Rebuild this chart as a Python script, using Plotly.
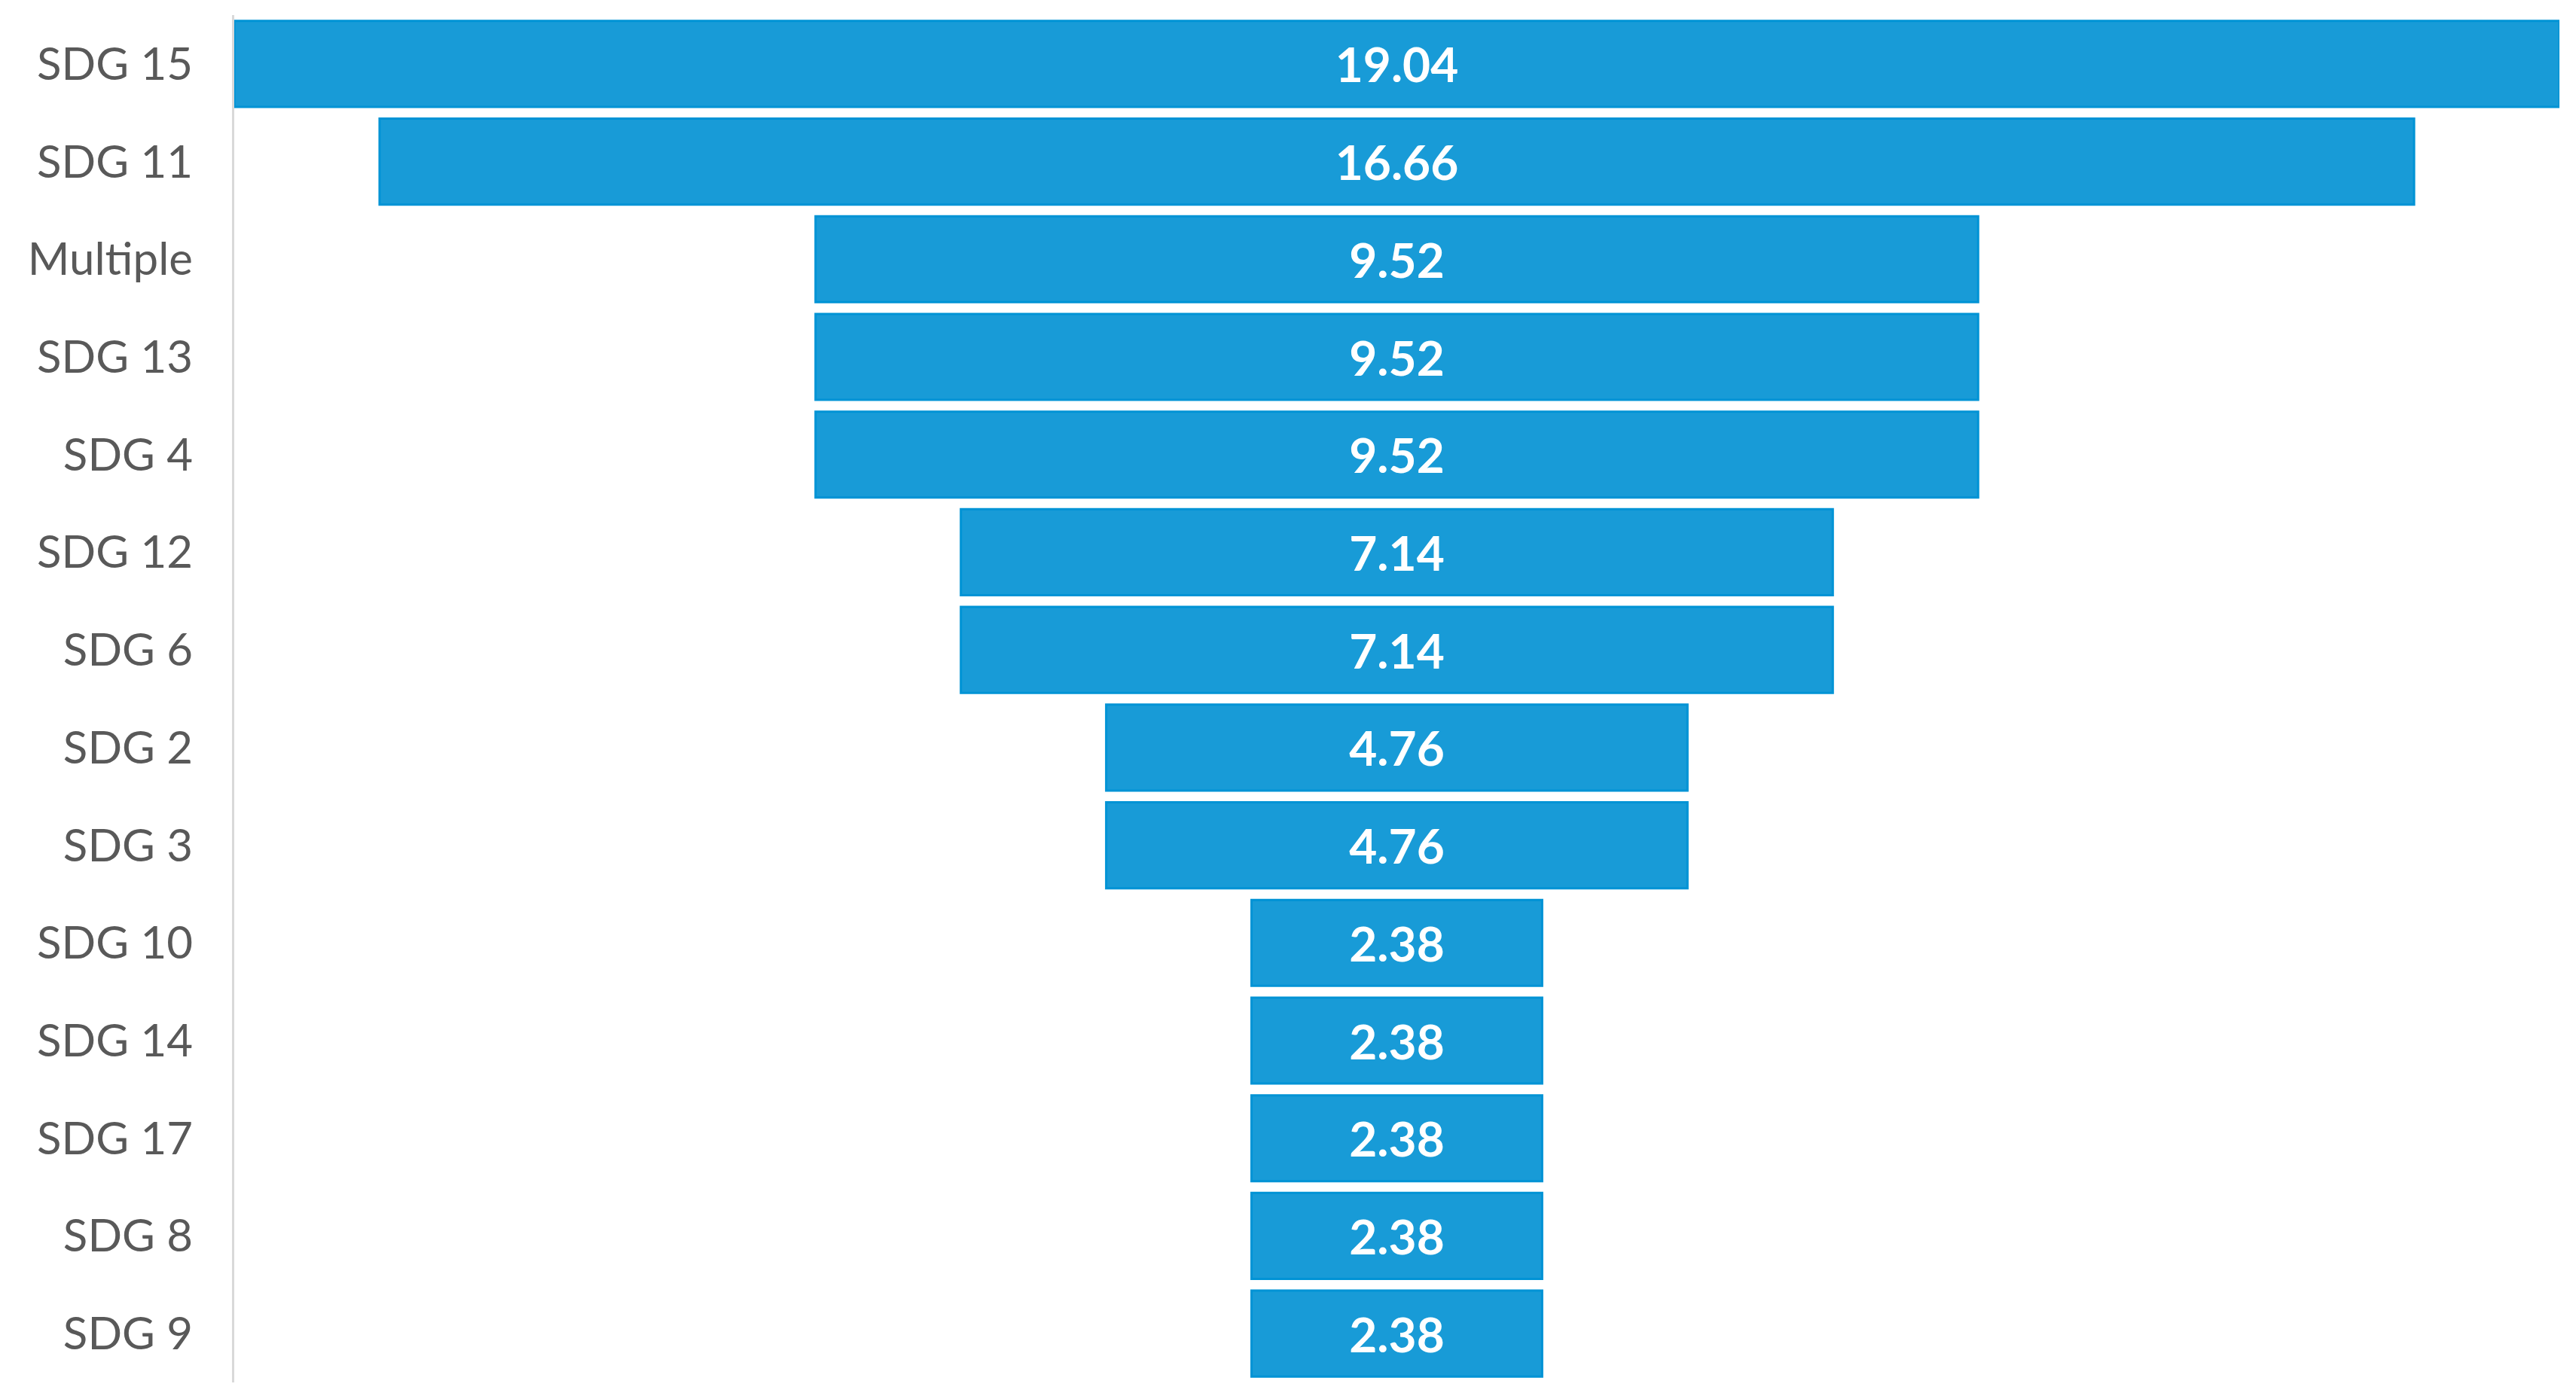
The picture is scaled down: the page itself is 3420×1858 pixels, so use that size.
import plotly.graph_objects as go

categories = ["SDG 15", "SDG 11", "Multiple", "SDG 13", "SDG 4", "SDG 12", "SDG 6",
              "SDG 2", "SDG 3", "SDG 10", "SDG 14", "SDG 17", "SDG 8", "SDG 9"]
values = [19.04, 16.66, 9.52, 9.52, 9.52, 7.14, 7.14, 4.76, 4.76, 2.38, 2.38, 2.38, 2.38, 2.38]
labels = [f"{v:.2f}" for v in values]

fig = go.Figure(go.Funnel(
    y=categories,
    x=values,
    text=labels,
    texttemplate="<b>%{text}</b>",
    textinfo="text",
    textposition="inside",
    insidetextanchor="middle",
    textfont=dict(family="Lato, Open Sans, sans-serif", size=64, color="white"),
    marker=dict(color="#189bd7", line=dict(color="#0093d5", width=3)),
    connector=dict(visible=False),
))

half = max(values) / 2
fig.update_layout(
    width=3420, height=1858,
    margin=dict(l=303, r=30, t=12, b=30),
    paper_bgcolor="white", plot_bgcolor="white",
    funnelgap=0.12,
    showlegend=False,
    font=dict(family="Lato, Open Sans, sans-serif"),
)
fig.update_xaxes(visible=False, range=[-half, half])
fig.update_yaxes(showline=True, linecolor="#d9d9d9", linewidth=3,
                 ticks="", ticklabelstandoff=40, showgrid=False,
                 tickfont=dict(family="Lato, Open Sans, sans-serif", size=60, color="#595959"))

fig.write_html("out.html")
